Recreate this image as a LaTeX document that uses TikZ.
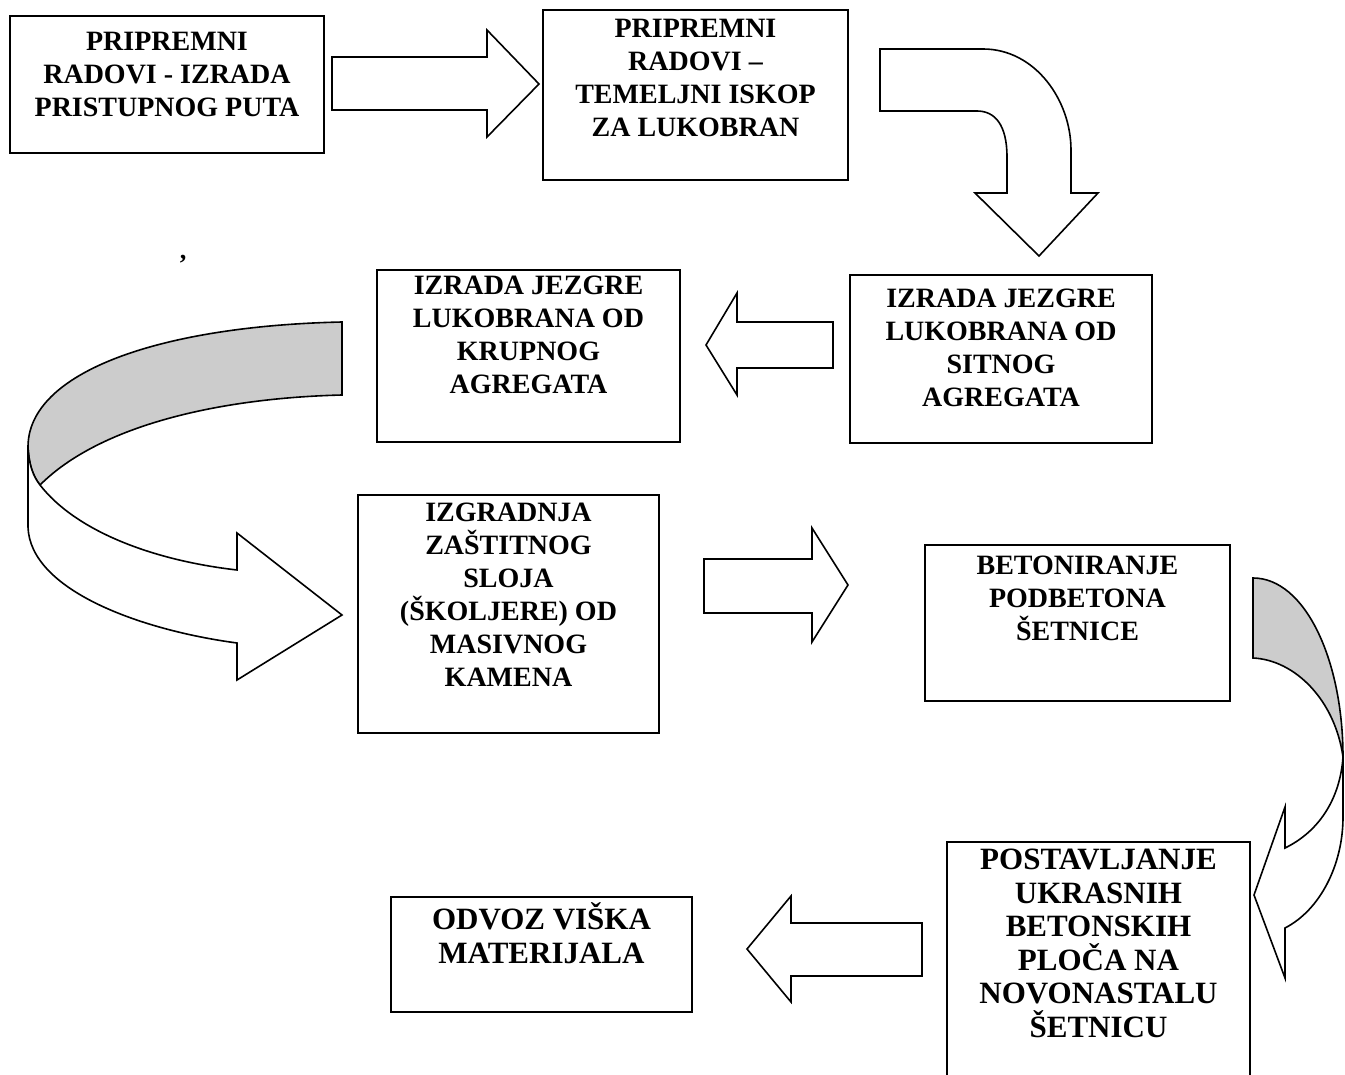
\documentclass[tikz,border=0pt]{standalone}
\usepackage{fontspec}
\setmainfont{Liberation Serif}
\definecolor{ribbongray}{RGB}{204,204,204}
\begin{document}
\begin{tikzpicture}[x=1pt,y=-1pt,
  box/.style={draw, line width=2pt, inner sep=0pt},
  txt/.style={align=center, inner sep=0pt, anchor=north, font=\bfseries\fontsize{28}{33}\selectfont},
  txtb/.style={txt, font=\bfseries\fontsize{31}{33.5}\selectfont},
  blk/.style={draw, line width=1.6pt, line join=miter, fill=white},
  back/.style={draw, line width=1.6pt, fill=ribbongray}]
\fill[white] (0,0) rectangle (1345,1075);
\useasboundingbox (0,0) rectangle (1345,1075);

% boxes
\node[box, minimum width=314pt, minimum height=137pt] (b1) at (167,84.5) {};
\node[box, minimum width=305pt, minimum height=170pt] (b2) at (695.5,95) {};
\node[box, minimum width=302pt, minimum height=168pt] (b3) at (1001,359) {};
\node[box, minimum width=303pt, minimum height=172pt] (b4) at (528.5,356) {};
\node[box, minimum width=301pt, minimum height=238pt] (b5) at (508.5,614) {};
\node[box, minimum width=305pt, minimum height=156pt] (b6) at (1077.5,623) {};
\node[box, minimum width=303pt, minimum height=248pt] (b7) at (1098.5,966) {};
\node[box, minimum width=301pt, minimum height=115pt] (b8) at (541.5,954.5) {};

% texts
\node[txt] (t1) at (167,32) {PRIPREMNI\\RADOVI - IZRADA\\PRISTUPNOG PUTA};
\node[txt] (t2) at (695.5,19) {PRIPREMNI\\RADOVI –\\TEMELJNI ISKOP\\ZA LUKOBRAN};
\node[txt] (t3) at (1001,289) {IZRADA JEZGRE\\LUKOBRANA OD\\SITNOG\\AGREGATA};
\node[txt] (t4) at (528.5,276) {IZRADA JEZGRE\\LUKOBRANA OD\\KRUPNOG\\AGREGATA};
\node[txt] (t5) at (508.5,503) {IZGRADNJA\\ZAŠTITNOG\\SLOJA\\(ŠKOLJERE) OD\\MASIVNOG\\KAMENA};
\node[txt] (t6) at (1077.5,556) {BETONIRANJE\\PODBETONA\\ŠETNICE};
\node[txtb] (t7) at (1098.5,849) {POSTAVLJANJE\\UKRASNIH\\BETONSKIH\\PLOČA NA\\NOVONASTALU\\ŠETNICU};
\node[txtb] (t8) at (541.5,909) {ODVOZ VI\smash{Š}KA\\MATERIJALA};

\node[inner sep=0pt, anchor=north, font=\bfseries\fontsize{26}{26}\selectfont] (mark) at (183,255) {’};

% straight block arrows
\draw[blk] (332,57) -- (487,57) -- (487,30) -- (539,84) -- (487,137) -- (487,110) -- (332,110) -- cycle;
\draw[blk] (833,322) -- (737,322) -- (737,293) -- (706,345) -- (737,395) -- (737,368) -- (833,368) -- cycle;
\draw[blk] (704,559) -- (812,559) -- (812,528) -- (848,585) -- (812,642) -- (812,613) -- (704,613) -- cycle;
\draw[blk] (922,923) -- (791,923) -- (791,896) -- (747,949) -- (791,1002) -- (791,976) -- (922,976) -- cycle;

% bent arrow top right
\draw[blk] (880,49) -- (983,49) .. controls (1035,49) and (1071,100) .. (1071,150) -- (1071,193) -- (1098,193) -- (1039,256) -- (975,193) -- (1007,193) -- (1007,157) .. controls (1007,125) and (995,111) .. (977,111) -- (880,111) -- cycle;

% big C-shaped ribbon arrow on the left
\draw[back] (342,322) .. controls (160,326) and (28,372) .. (28,447) .. controls (29,465) and (33,476) .. (40,485) .. controls (100,425) and (220,398) .. (342,395) -- cycle;
\draw[blk] (28,447) -- (28,527) .. controls (30,590) and (140,630) .. (237,643) -- (237,680) -- (342,615) -- (237,533) -- (237,570) .. controls (150,560) and (75,530) .. (40,485) .. controls (33,476) and (29,465) .. (28,447) -- cycle;

% curved ribbon arrow on the right
\draw[back] (1253,578) .. controls (1305,578) and (1343,660) .. (1343,757) .. controls (1335,700) and (1295,660) .. (1253,658) -- cycle;
\draw[blk] (1343,757) -- (1343,817) .. controls (1343,865) and (1320,910) .. (1285,928) -- (1285,978) -- (1254,895) -- (1285,807) -- (1285,848) .. controls (1318,832) and (1340,800) .. (1343,757) -- cycle;
\end{tikzpicture}
\end{document}
